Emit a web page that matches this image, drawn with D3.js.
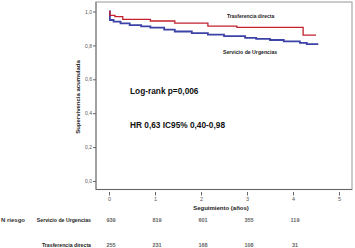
<!DOCTYPE html>
<html lang="es">
<head>
<meta charset="UTF-8">
<title>Supervivencia</title>
<script src="https://d3js.org/d3.v7.min.js"></script>
<style>
  body { margin: 0; background: #fff; }
  svg { font-family: "Liberation Sans", Arial, sans-serif; }
</style>
</head>
<body>
<div id="chart"></div>
<script>
// Kaplan-Meier data (years, cumulative survival)
const urgTime = [0, 0.02, 0.1, 0.25, 0.45, 0.7, 0.9, 1.2, 1.43, 1.8, 2.15, 2.5, 2.96, 3.2, 3.5, 3.8, 4.15, 4.3, 4.55];
const urgSurv = [1.0, 0.95, 0.94, 0.93, 0.92, 0.912, 0.905, 0.893, 0.882, 0.873, 0.864, 0.855, 0.844, 0.838, 0.832, 0.824, 0.815, 0.808, 0.808];
const traTime = [0, 0.02, 0.13, 0.3, 0.9, 1.43, 2.15, 2.78, 4.22, 4.5];
const traSurv = [1.0, 0.977, 0.97, 0.953, 0.944, 0.932, 0.914, 0.906, 0.861, 0.861];

const yTicks = [0, 0.2, 0.4, 0.6, 0.8, 1.0];
const xTicks = [0, 1, 2, 3, 4, 5];
const riskGroups = ["Servicio de Urgencias", "Trasferencia directa"];
const riskUrg = [939, 819, 601, 355, 119];
const riskTra = [255, 231, 168, 108, 31];

const width = 355, height = 248;
const svg = d3.select("#chart").append("svg")
    .attr("width", width).attr("height", height);

const x = d3.scaleLinear().domain([0, 5]).range([109, 339]);
const y = d3.scaleLinear().domain([0, 1]).range([181, 11.5]);

// plot frame
svg.append("rect")
    .attr("x", 96).attr("y", 2).attr("width", 256).attr("height", 187.5)
    .attr("fill", "none").attr("stroke", "#a8a8a8").attr("stroke-width", 1.2);

// axes lines
svg.append("line").attr("x1", 96).attr("x2", 96).attr("y1", 2).attr("y2", 189.5)
    .attr("stroke", "#777").attr("stroke-width", 1);
svg.append("line").attr("x1", 96).attr("x2", 352).attr("y1", 189.5).attr("y2", 189.5)
    .attr("stroke", "#666").attr("stroke-width", 1.2);

const yAxis = svg.append("g")
    .attr("transform", "translate(96,0)")
    .call(d3.axisLeft(y).tickValues(yTicks).tickSize(3).tickPadding(1)
        .tickFormat(d => d3.format(".1f")(d).replace(".", ",")));
yAxis.select(".domain").remove();
yAxis.selectAll("line").attr("stroke", "#666");
yAxis.selectAll("text").attr("font-size", 5).attr("fill", "#555");

const xAxis = svg.append("g")
    .attr("transform", "translate(0,192)")
    .call(d3.axisBottom(x).tickValues(xTicks).tickSize(3.5).tickPadding(1.5)
        .tickFormat(d3.format("d")));
xAxis.select(".domain").remove();
xAxis.selectAll("line").attr("stroke", "#666");
xAxis.selectAll("text").attr("font-size", 5.5).attr("fill", "#555");

// axis titles
svg.append("text")
    .attr("transform", "translate(80,97) rotate(-90)")
    .attr("text-anchor", "middle")
    .attr("font-size", 6).attr("font-weight", "bold").attr("fill", "#222")
    .text("Supervivencia acumulada");
svg.append("text")
    .attr("x", 221).attr("y", 210)
    .attr("text-anchor", "middle")
    .attr("font-size", 6).attr("font-weight", "bold").attr("fill", "#222")
    .text("Seguimiento (años)");

// survival curves
const line = d3.line()
    .x(d => x(d[0]))
    .y(d => y(d[1]))
    .curve(d3.curveStepAfter);

svg.append("path")
    .datum(urgTime.map((t, i) => [t, urgSurv[i]]))
    .attr("fill", "none").attr("stroke", "#3d43a6").attr("stroke-width", 1.8)
    .attr("d", line);
svg.append("path")
    .datum(traTime.map((t, i) => [t, traSurv[i]]))
    .attr("fill", "none").attr("stroke", "#c4202e").attr("stroke-width", 1.3)
    .attr("d", line);

// curve labels
svg.append("text").attr("x", 227).attr("y", 18)
    .attr("font-size", 5).attr("font-weight", "bold").attr("fill", "#222")
    .text("Trasferencia directa");
svg.append("text").attr("x", 223).attr("y", 53.5)
    .attr("font-size", 5.2).attr("font-weight", "bold").attr("fill", "#222")
    .text("Servicio de Urgencias");

// statistics
svg.append("text").attr("x", 130).attr("y", 94)
    .attr("font-size", 8.3).attr("font-weight", "bold").attr("fill", "#111")
    .text("Log-rank p=0,006");
svg.append("text").attr("x", 130).attr("y", 128)
    .attr("font-size", 8.3).attr("font-weight", "bold").attr("fill", "#111")
    .text("HR 0,63 IC95% 0,40-0,98");

// number at risk table
svg.append("text").attr("x", 1).attr("y", 222)
    .attr("font-size", 6).attr("font-weight", "bold").attr("fill", "#333")
    .text("N  riesgo");
const rows = [riskUrg, riskTra];
const rowY = [222, 247];
rows.forEach((vals, r) => {
    svg.append("text").attr("x", 91).attr("y", rowY[r])
        .attr("text-anchor", "end")
        .attr("font-size", 5.2).attr("font-weight", "bold").attr("fill", "#222")
        .text(riskGroups[r]);
    svg.selectAll(null).data(vals).enter().append("text")
        .attr("x", (d, i) => x(i) + 2)
        .attr("y", rowY[r])
        .attr("text-anchor", "middle")
        .attr("font-size", 5.5).attr("font-weight", "bold").attr("fill", "#666")
        .text(d => d);
});
</script>
</body>
</html>
